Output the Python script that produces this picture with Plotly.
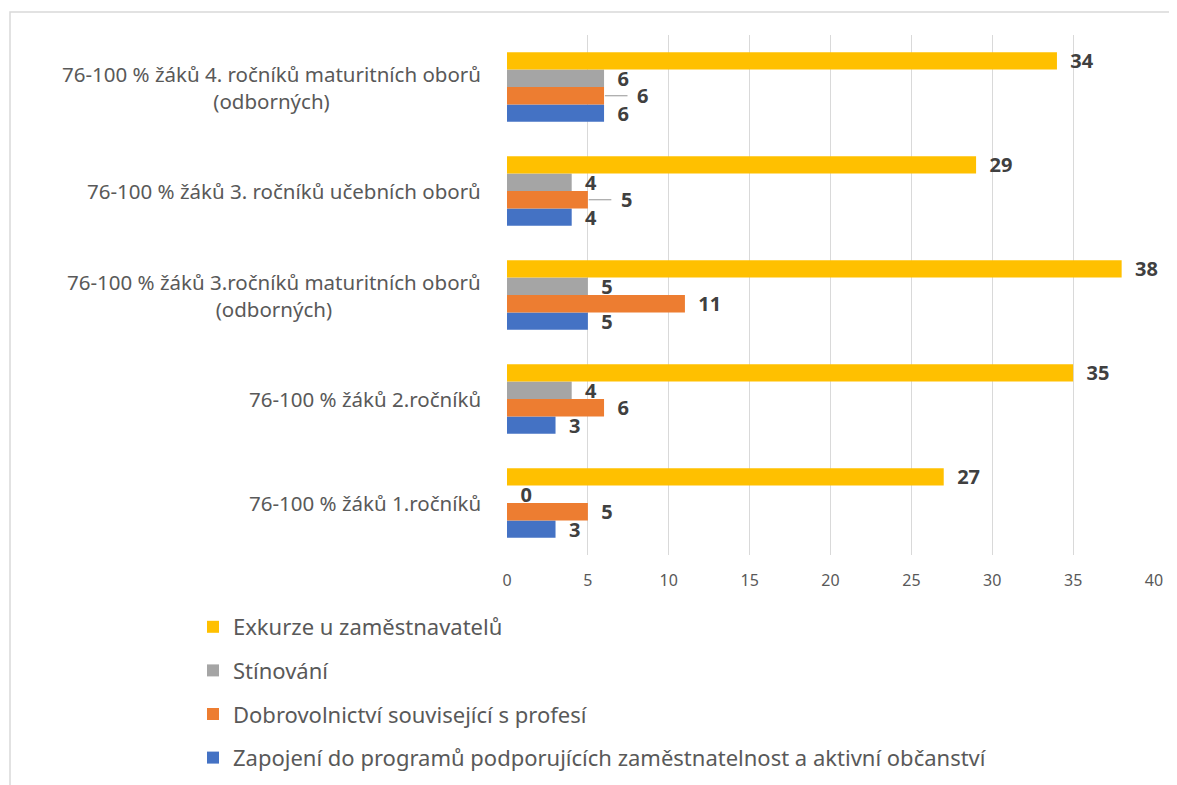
import plotly.graph_objects as go

categories = [
    "76-100 % žáků 1.ročníků",
    "76-100 % žáků 2.ročníků",
    "76-100 % žáků 3.ročníků maturitních oborů<br>(odborných)",
    "76-100 % žáků 3. ročníků učebních oborů",
    "76-100 % žáků 4. ročníků maturitních oborů<br>(odborných)",
]
series_names = [
    "Zapojení do programů podporujících zaměstnatelnost a aktivní občanství",
    "Dobrovolnictví související s profesí",
    "Stínování",
    "Exkurze u zaměstnavatelů",
]
zapojeni = [3, 3, 5, 4, 6]
dobrovolnictvi = [5, 6, 11, 5, 6]
stinovani = [0, 4, 5, 4, 6]
exkurze = [27, 35, 38, 29, 34]
colors = ["#4472C4", "#ED7D31", "#A5A5A5", "#FFC000"]
x_ticks = [0, 5, 10, 15, 20, 25, 30, 35, 40]

FONT = "Noto Sans"
OFF = 8  # default page body margin
W, H = 1177 - OFF, 785 - OFF
ml, mr, mt, mb = 507 - OFF, 23, 35 - OFF, 230
pw, ph = W - ml - mr, H - mt - mb
BARGAP = 0.33
NB = "\u00a0"
LABEL_FONT = dict(family=FONT, size=20, color="#404040", weight="bold")

all_vals = [zapojeni, dobrovolnictvi, stinovani, exkurze]
# labels of the orange series that crowd their neighbours get moved right with a leader line
crowded = [abs(o - g) <= 1 and abs(o - b) <= 1
           for o, g, b in zip(dobrovolnictvi, stinovani, zapojeni)]

fig = go.Figure()
for i, (name, vals, col) in enumerate(zip(series_names, all_vals, colors)):
    if i == 1:
        texts = ["" if c else NB * 2 + str(v) for v, c in zip(vals, crowded)]
    else:
        texts = [NB * 2 + str(v) for v in vals]
    fig.add_trace(go.Bar(
        y=categories, x=vals, name=name, orientation="h",
        marker=dict(color=col, line=dict(width=0)),
        text=texts, texttemplate="%{text}", textposition="outside",
        textfont=LABEL_FONT,
        constraintext="none", cliponaxis=False,
        legendgroup=f"g{i}", legendrank=10 - i,
    ))

# moved labels with leader lines (orange bar = 2nd of 4 in group, from bottom)
slot = (1 - BARGAP) / 4
orange_off = -(1 - BARGAP) / 2 + slot * 1.5
for k, (v, c) in enumerate(zip(dobrovolnictvi, crowded)):
    if c:
        fig.add_shape(type="line", xref="x", yref="y",
                      x0=v + 0.05, x1=v + 1.45, y0=k + orange_off, y1=k + orange_off,
                      line=dict(color="#A6A6A6", width=1.2))
        fig.add_annotation(x=v, y=k + orange_off, xref="x", yref="y", text=str(v),
                           showarrow=False, xanchor="left", yanchor="middle", xshift=31,
                           font=LABEL_FONT)

for cat in categories:
    fig.add_annotation(
        x=0, xref="paper", y=cat, yref="y", text=cat, showarrow=False,
        xanchor="right", yanchor="middle", align="center", xshift=-24,
        font=dict(family=FONT, size=20.5, color="#595959"),
    )

def px_x(p):
    return (p - OFF - ml) / pw

def px_y(p):
    return (H - mb - (p - OFF)) / ph

fig.add_shape(type="rect", xref="paper", yref="paper",
              x0=px_x(10), x1=px_x(1200), y0=px_y(820), y1=px_y(12),
              line=dict(color="#D9D9D9", width=1.5), fillcolor="rgba(0,0,0,0)", layer="below")

fig.update_layout(
    width=W, height=H,
    margin=dict(l=ml, r=mr, t=mt, b=mb, autoexpand=False),
    barmode="group", bargap=BARGAP, bargroupgap=0,
    plot_bgcolor="white", paper_bgcolor="white",
    font=dict(family=FONT, color="#595959"),
    showlegend=True,
    legend=dict(
        orientation="v", traceorder="grouped", x=px_x(193), y=px_y(606),
        xanchor="left", yanchor="top", tracegroupgap=12,
        font=dict(family=FONT, size=22, color="#595959"),
        bgcolor="rgba(0,0,0,0)",
    ),
    xaxis=dict(
        range=[0, 40], tickvals=x_ticks, showgrid=True, gridcolor="#D9D9D9", gridwidth=1,
        zeroline=False, showline=False, ticks="",
        tickfont=dict(family=FONT, size=16, color="#595959"), ticklabelstandoff=14,
    ),
    yaxis=dict(
        showticklabels=False, showgrid=False, zeroline=False, showline=False, ticks="",
    ),
)

fig.write_html("out.html")
